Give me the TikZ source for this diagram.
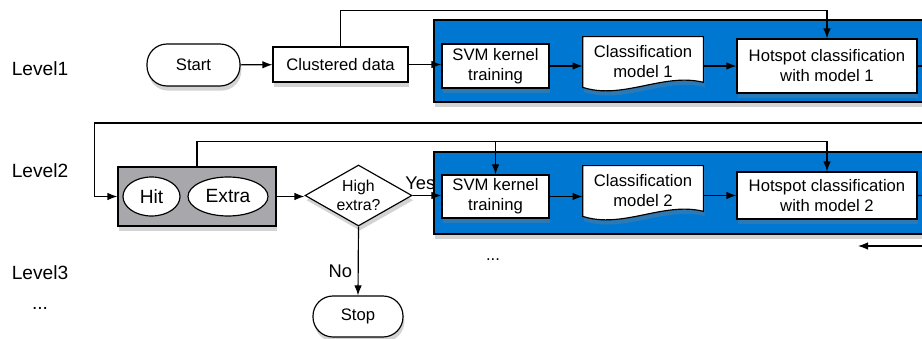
\documentclass[tikz,border=0pt]{standalone}
\usepackage{fontspec}
\setmainfont{Liberation Sans}
\usetikzlibrary{arrows.meta,
                calc,
                shadows,
                shapes.geometric
            }
\definecolor{hsblue}{RGB}{0,120,210}
\definecolor{hsgray}{RGB}{168,168,172}
\pgfdeclarelayer{back}
\pgfdeclarelayer{mid}
\pgfsetlayers{back,mid,main}
\tikzset{
    arr/.style={-{Latex[length=6pt,width=4.5pt]}, line width=0.7pt},
    shdw/.style={drop shadow={shadow xshift=0.8pt, shadow yshift=-2.8pt, opacity=0.35}},
    box/.style={draw, line width=0.7pt, fill=white, shdw, align=center, inner sep=1pt},
    term/.style={box, rounded corners=12pt},
    docbox/.style={align=center, inner sep=1pt},
    docline/.style={draw, line width=0.7pt, fill=white, shdw},
    blk/.style={draw, line width=0.9pt, fill=hsblue, shdw, minimum width=339.6pt, minimum height=49.2pt},
    ell/.style={draw, ellipse, fill=white, line width=0.7pt, inner sep=0pt, minimum height=23.4pt, font=\fontsize{11.5}{13}\selectfont},
    dec/.style={draw, diamond, aspect=1.75, inner sep=-2pt, minimum width=64.2pt, minimum height=36.6pt, fill=white, shdw, line width=0.7pt, align=center, font=\fontsize{9.5}{11.5}\selectfont},
    lvl/.style={font=\fontsize{11.5}{13}\selectfont},
    lbl/.style={font=\fontsize{11}{13}\selectfont}
}

\begin{document}
\begin{tikzpicture}[x=0.6pt, y=-0.6pt]
            \useasboundingbox (0,0) rectangle (922,339);
            \node[lvl] (lv1) at (40,69) {Level1};
            \node[lvl] (lv2) at (40,171) {Level2};
            \node[lvl] (lv3) at (40,273) {Level3};
            \node[lvl] (lvdots) at (40,308) {...};
            \begin{pgfonlayer}{back}
                \node[blk] (blue1) at (717,61) {};
                \node[blk] (blue2) at (717,193) {};
            \end{pgfonlayer}
            \node[term, minimum width=55.8pt, minimum height=25.2pt] (start) at (193.5,65) {Start};
            \node[box, minimum width=81pt, minimum height=21pt] (clust) at (340.5,64.5) {Clustered data};
            \node[box, minimum width=64.2pt, minimum height=26.4pt] (svm1) at (495.5,66) {SVM kernel\\training};
            \node[docbox, minimum width=72pt, minimum height=30pt] (cm1) at (643,62) {Classification\\model 1};
            \node[box, minimum width=108pt, minimum height=32.4pt] (hot1) at (827,66) {Hotspot classification\\with model 1};
            \node[box, fill=hsgray, minimum width=94.8pt, minimum height=35.4pt] (grp) at (197,196.5) {};
            \node[ell, minimum width=34.2pt] (hit) at (151.5,196.5) {Hit};
            \node[ell, minimum width=48pt] (extra) at (228,196.5) {Extra};
            \node[dec] (dia) at (358.5,195.5) {High\\extra?};
            \node[box, minimum width=64.2pt, minimum height=25.8pt] (svm2) at (495.5,196.5) {SVM kernel\\training};
            \node[docbox, minimum width=72pt, minimum height=30pt] (cm2) at (643,191) {Classification\\model 2};
            \node[box, minimum width=108pt, minimum height=28.2pt] (hot2) at (827,195.5) {Hotspot classification\\with model 2};
            \node[term, minimum width=54pt, minimum height=24.6pt] (stop) at (358,316.5) {Stop};
            \node (dots2) at (493,260) {...};
            \begin{pgfonlayer}{mid}
                \path[docline] (cm1.north west) -- (cm1.north east) -- ([yshift=3pt]cm1.south east)
                    .. controls ([shift={(-24pt,9pt)}]cm1.south east) and ([shift={(24pt,-7.8pt)}]cm1.south west) .. (cm1.south west) -- cycle;
                \path[docline] (cm2.north west) -- (cm2.north east) -- ([yshift=3pt]cm2.south east)
                    .. controls ([shift={(-24pt,9pt)}]cm2.south east) and ([shift={(24pt,-7.8pt)}]cm2.south west) .. (cm2.south west) -- cycle;
            \end{pgfonlayer}
            \coordinate (out1) at (945,66);
            \coordinate (out2) at (945,196);
            \coordinate (back1) at (945,123);
            \coordinate (in3) at (945,246);
            \coordinate (end3) at (858,246);
            \draw[arr] (start) -- (clust);
            \draw[arr] (clust.east) -- (clust.east -| svm1.west);
            \draw[arr] (svm1.east) -- (svm1.east -| cm1.west);
            \draw[arr] (cm1.east |- hot1.west) -- (hot1.west);
            \draw[arr] (hot1.east) -- (out1);
            \draw[arr] (clust.north) -- ++(0,-36) -| (hot1.north);
            \draw[arr] (back1) -| ($(grp.west)+(-23,0)$) -- (grp.west);
            \draw[arr] (grp.east) -- (grp.east -| dia.west);
            \draw[arr] (dia.east) -- node[lbl, above, pos=0.27] {Yes} (dia.east -| svm2.west);
            \draw[arr] (dia.south) -- node[lbl, left, pos=0.65] {No} (stop.north);
            \draw[arr] (grp.north) -- ++(0,-25) coordinate (lp2) -| (hot2.north);
            \draw[arr] (lp2 -| svm2.north) -- (svm2.north);
            \draw[arr] (svm2.east) -- (svm2.east -| cm2.west);
            \draw[arr] (cm2.east |- hot2.west) -- (hot2.west);
            \draw[arr] (hot2.east) -- (out2);
            \draw[arr] (in3) -- (end3);
        \end{tikzpicture}
\end{document}
